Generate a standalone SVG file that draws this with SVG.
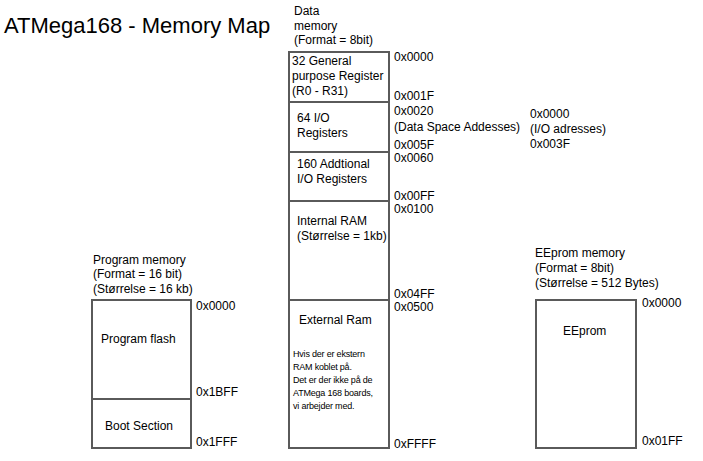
<svg xmlns="http://www.w3.org/2000/svg" width="703" height="461" viewBox="0 0 703 461">
<style>
text{font-family:"Liberation Sans",Arial,sans-serif;font-size:12px;fill:#000}
.title{font-size:22px}
.small{font-size:9px;letter-spacing:-0.2px}
.box{fill:#fff;stroke:#5a5a5a;stroke-width:2}
.div{stroke:#5a5a5a;stroke-width:2;fill:none}
</style>
<rect width="703" height="461" fill="#fff"/>
<text class="title" x="4" y="33">ATMega168 - Memory Map</text>

<g id="data-memory">
<text x="294" y="15">Data</text>
<text x="294" y="29.5">memory</text>
<text x="294" y="44">(Format = 8bit)</text>
<rect class="box" x="289" y="52" width="100" height="396"/>
</g>
<g id="gpr">
<text x="292" y="65">32 General</text>
<text x="292" y="80">purpose Register</text>
<text x="292" y="95">(R0 - R31)</text>
<text x="394" y="61">0x0000</text>
<text x="394" y="100">0x001F</text>
</g>
<g id="io64">
<text x="297" y="122">64 I/O</text>
<text x="297" y="137">Registers</text>
<text x="394" y="115">0x0020</text>
<text x="394" y="131">(Data Space Addesses)</text>
<text x="394" y="149">0x005F</text>
</g>
<g id="io-address">
<text x="530" y="118">0x0000</text>
<text x="530" y="133">(I/O adresses)</text>
<text x="530" y="148">0x003F</text>
</g>
<g id="io160">
<text x="297" y="168">160 Addtional</text>
<text x="297" y="183">I/O Registers</text>
<text x="394" y="162">0x0060</text>
<text x="394" y="200">0x00FF</text>
</g>
<g id="internal-ram">
<text x="297" y="225">Internal RAM</text>
<text x="297" y="240">(Størrelse = 1kb)</text>
<text x="394" y="213">0x0100</text>
<text x="394" y="298">0x04FF</text>
</g>
<g id="external-ram">
<text x="299" y="324">External Ram</text>
<text class="small" x="293" y="357">Hvis der er ekstern</text>
<text class="small" x="293" y="370">RAM koblet på.</text>
<text class="small" x="293" y="383">Det er der ikke på de</text>
<text class="small" x="293" y="396">ATMega 168 boards,</text>
<text class="small" x="293" y="409">vi arbejder med.</text>
<text x="394" y="311">0x0500</text>
<text x="394" y="448">0xFFFF</text>
</g>

<g id="program-memory">
<text x="93" y="264">Program memory</text>
<text x="93" y="278">(Format = 16 bit)</text>
<text x="93" y="293">(Størrelse = 16 kb)</text>
<rect class="box" x="92" y="300" width="99" height="148"/>
</g>
<g id="program-flash">
<text x="101" y="343">Program flash</text>
<text x="196" y="310">0x0000</text>
<text x="196" y="396">0x1BFF</text>
</g>
<g id="boot-section">
<text x="105" y="430">Boot Section</text>
<text x="196" y="446">0x1FFF</text>
</g>

<g id="eeprom-memory">
<text x="535" y="257">EEprom memory</text>
<text x="535" y="272">(Format = 8bit)</text>
<text x="535" y="287">(Størrelse = 512 Bytes)</text>
<rect class="box" x="536" y="300" width="100" height="148"/>
<text x="563" y="335">EEprom</text>
<text x="642" y="307">0x0000</text>
<text x="642" y="445">0x01FF</text>
</g>

<g id="connectors">
<line class="div" x1="289" y1="102" x2="389" y2="102"/>
<line class="div" x1="289" y1="152" x2="389" y2="152"/>
<line class="div" x1="289" y1="201" x2="389" y2="201"/>
<line class="div" x1="289" y1="300" x2="389" y2="300"/>
<line class="div" x1="92" y1="399" x2="191" y2="399"/>
</g>
</svg>
